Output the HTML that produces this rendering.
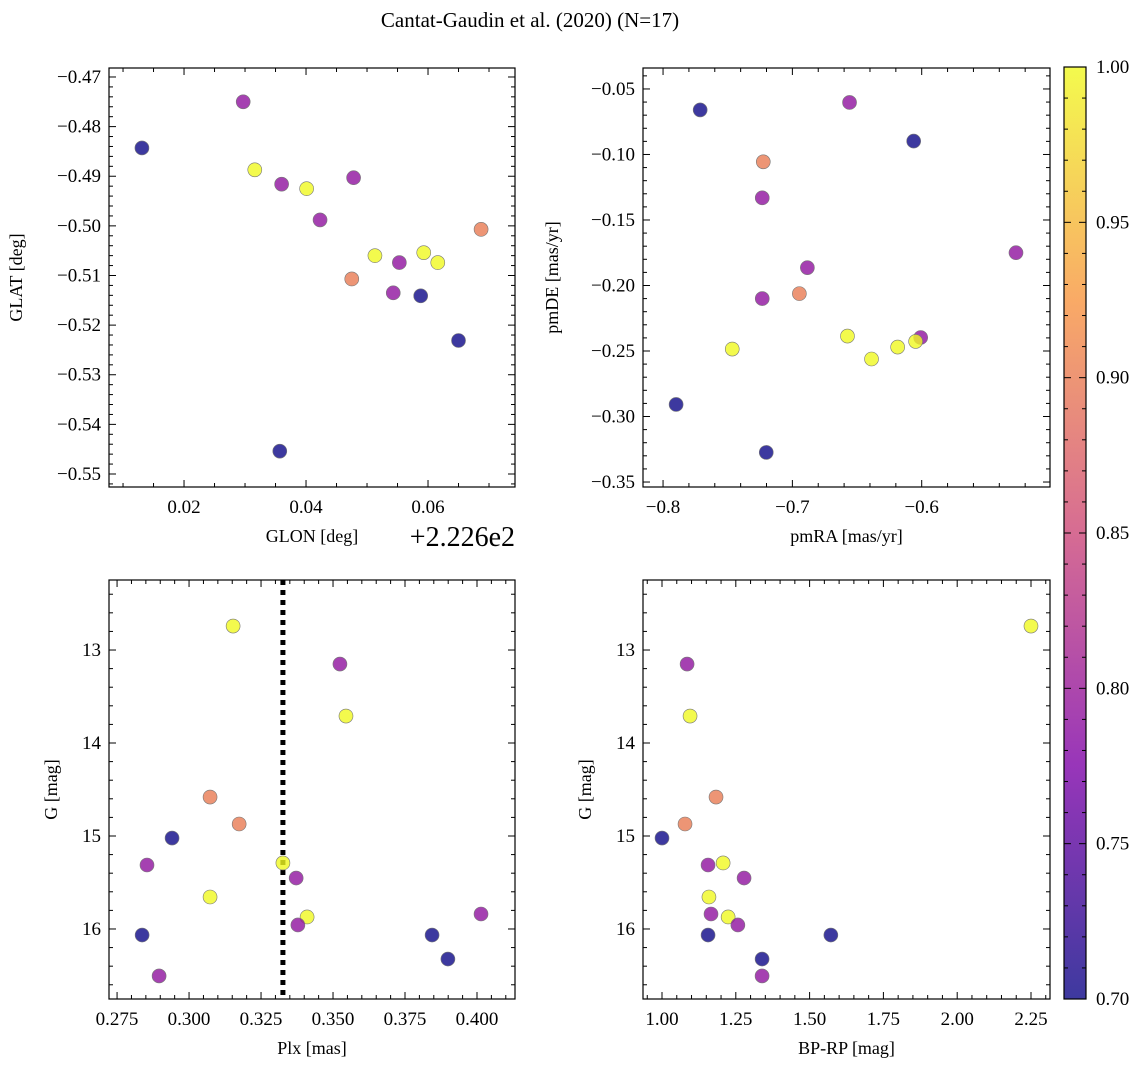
<!DOCTYPE html>
<html><head><meta charset="utf-8"><style>
body{margin:0;background:#fff;}
svg{display:block;}
svg text{font-family:"Liberation Serif",serif;}
</style></head><body>
<svg id="fig" width="1148" height="1067" viewBox="0 0 1148 1067" xmlns="http://www.w3.org/2000/svg">
<text x="530" y="27" font-size="21" text-anchor="middle" font-family="Liberation Serif, serif">Cantat-Gaudin et al. (2020) (N=17)</text>
</svg>
<script>
// Panel 1: GLON offset vs GLAT
const glonOff = [0.0131,0.0297,0.0316,0.0360,0.0401,0.0478,0.0423,0.0475,0.0513,0.0553,0.0593,0.0616,0.0687,0.0543,0.0588,0.0650,0.0357];
const glat = [-0.4843,-0.4750,-0.4887,-0.4916,-0.4925,-0.4903,-0.4988,-0.5107,-0.5060,-0.5074,-0.5054,-0.5074,-0.5007,-0.5135,-0.5141,-0.5231,-0.5454];
const prob1 = [0.70,0.79,1.0,0.79,1.0,0.79,0.79,0.90,1.0,0.79,1.0,1.0,0.90,0.79,0.70,0.70,0.70];
// Panel 2: pmRA vs pmDE
const pmra = [-0.7713,-0.7225,-0.7233,-0.6558,-0.6062,-0.6884,-0.5271,-0.7233,-0.6946,-0.7465,-0.6574,-0.6388,-0.6186,-0.6008,-0.6047,-0.7899,-0.7202];
const pmde = [-0.0660,-0.1056,-0.1331,-0.0603,-0.0898,-0.1864,-0.1750,-0.2100,-0.2062,-0.2485,-0.2386,-0.2561,-0.2470,-0.2397,-0.2427,-0.2908,-0.3274];
const prob2 = [0.70,0.90,0.79,0.79,0.70,0.79,0.79,0.79,0.90,1.0,1.0,1.0,1.0,0.79,1.0,0.70,0.70];
// Panel 3: Plx vs G
const plx = [0.3153,0.3524,0.3545,0.3073,0.3174,0.2941,0.2854,0.3326,0.3372,0.3073,0.3410,0.3378,0.4014,0.2837,0.3844,0.3899,0.2896];
const gmag3 = [12.742,13.151,13.710,14.581,14.871,15.022,15.312,15.290,15.452,15.656,15.871,15.957,15.839,16.065,16.065,16.323,16.505];
const prob3 = [1.0,0.79,1.0,0.90,0.90,0.70,0.79,1.0,0.79,1.0,1.0,0.79,0.79,0.70,0.70,0.70,0.79];
const plxLine = 0.3326;
// Panel 4: BP-RP vs G
const bprp = [2.250,1.085,1.095,1.183,1.078,1.000,1.156,1.207,1.278,1.159,1.166,1.224,1.257,1.156,1.572,1.339,1.339];
const gmag4 = [12.742,13.151,13.710,14.581,14.871,15.022,15.312,15.290,15.452,15.656,15.839,15.871,15.957,16.065,16.065,16.323,16.505];
const prob4 = [1.0,0.79,1.0,0.90,0.90,0.70,0.79,1.0,0.79,1.0,0.79,1.0,0.79,0.70,0.70,0.70,0.79];
// Tick labels
const ticks1x = [0.02,0.04,0.06];
const ticks1y = [-0.47,-0.48,-0.49,-0.50,-0.51,-0.52,-0.53,-0.54,-0.55];
const ticks2x = [-0.8,-0.7,-0.6];
const ticks2y = [-0.05,-0.10,-0.15,-0.20,-0.25,-0.30,-0.35];
const ticks3x = [0.275,0.300,0.325,0.350,0.375,0.400];
const ticksGy = [13,14,15,16];
const ticks4x = [1.00,1.25,1.50,1.75,2.00,2.25];
const ticksCb = [0.70,0.75,0.80,0.85,0.90,0.95,1.00];

const NS="http://www.w3.org/2000/svg";
const FF="Liberation Serif, serif";
const svg=document.getElementById('fig');
function el(tag,attrs,parent){const e=document.createElementNS(NS,tag);for(const k in attrs)e.setAttribute(k,attrs[k]);if(tag==='text')e.setAttribute('font-family',FF);(parent||svg).appendChild(e);return e;}
const plasmaStops=[[0,[13,8,135]],[0.25,[126,3,168]],[0.5,[204,71,120]],[0.75,[248,149,64]],[1,[240,249,33]]];
function plasma(t){t=Math.max(0,Math.min(1,t));for(let i=1;i<plasmaStops.length;i++){if(t<=plasmaStops[i][0]){const a=plasmaStops[i-1],b=plasmaStops[i];const f=(t-a[0])/(b[0]-a[0]);return 'rgb('+a[1].map((v,j)=>Math.round(v+(b[1][j]-v)*f)).join(',')+')';}}return 'rgb(240,249,33)';}
function pcol(p){return plasma((p-0.7)/0.3);}
function fmt(v,d){return (v<0?'\u2212':'')+Math.abs(v).toFixed(d);}

function panel(o){
  const g=el('g',{});
  
  
  const X=v=>o.x0+(v-o.xmin)/(o.xmax-o.xmin)*(o.x1-o.x0);
  const Y=v=>o.y1-(v-o.ymin)/(o.ymax-o.ymin)*(o.y1-o.y0);
  const tg=el('g',{stroke:'#000','stroke-width':1},g);
  const eps=1e-9;
  for(let v=Math.ceil(o.xmin/o.xminor-eps)*o.xminor;v<=o.xmax+eps;v+=o.xminor){const px=X(v);const maj=Math.abs(v/o.xmajor-Math.round(v/o.xmajor))<1e-4;const L=maj?7:4;el('line',{x1:px,x2:px,y1:o.y1,y2:o.y1-L},tg);el('line',{x1:px,x2:px,y1:o.y0,y2:o.y0+L},tg);}
  for(let v=Math.ceil(o.ymin/o.yminor-eps)*o.yminor;v<=o.ymax+eps;v+=o.yminor){const py=Y(v);const maj=Math.abs(v/o.ymajor-Math.round(v/o.ymajor))<1e-4;const L=maj?7:4;el('line',{y1:py,y2:py,x1:o.x0,x2:o.x0+L},tg);el('line',{y1:py,y2:py,x1:o.x1,x2:o.x1-L},tg);}
  o.xt.forEach(v=>{const t=el('text',{x:X(v),y:o.y1+26,'font-size':19,'text-anchor':'middle'},g);t.textContent=fmt(v,o.xd);});
  o.yt.forEach(v=>{const t=el('text',{x:o.x0-8,y:Y(v)+6,'font-size':19,'text-anchor':'end'},g);t.textContent=o.yabs?Math.abs(v).toFixed(o.yd):fmt(v,o.yd);});
  if(o.vline!==undefined){const l=el('line',{x1:X(o.vline),x2:X(o.vline),y1:o.y0,y2:o.y1,stroke:'#000','stroke-width':5,'stroke-dasharray':'5,5'},g);}
  for(let i=0;i<o.xs.length;i++){const c=el('circle',{cx:X(o.xs[i]),cy:Y(o.ys[i]),r:7,fill:pcol(o.ps[i]),'fill-opacity':0.8,stroke:'#777','stroke-width':0.6},g);}
  el('rect',{x:o.x0,y:o.y0,width:o.x1-o.x0,height:o.y1-o.y0,fill:'none',stroke:'#000','stroke-width':1.2},g);
  const xl=el('text',{x:o.xlx||(o.x0+o.x1)/2,y:o.y1+55,'font-size':18,'text-anchor':'middle'},g);xl.textContent=o.xlabel;
  const cy=(o.y0+o.y1)/2;const yl=el('text',{x:0,y:0,'font-size':18,'text-anchor':'middle',transform:`translate(${o.ylx},${cy}) rotate(-90)`},g);yl.textContent=o.ylabel;
}
panel({name:'glon-glat-panel',x0:109,x1:515,y0:68,y1:487,xmin:0.0077,xmax:0.07426,ymin:-0.55262,ymax:-0.46819,xmajor:0.02,xminor:0.005,ymajor:0.01,yminor:0.002,xt:ticks1x,yt:ticks1y,xd:2,yd:2,xs:glonOff,ys:glat,ps:prob1,xlabel:'GLON [deg]',xlx:312,ylabel:'GLAT [deg]',ylx:22});
const off=el('text',{x:515,y:546,'font-size':28,'text-anchor':'end'});off.textContent='+2.226e2';


panel({name:'proper-motion-panel',x0:643,x1:1050,y0:68,y1:487,xmin:-0.8155,xmax:-0.5008,ymin:-0.3538,ymax:-0.034,xmajor:0.1,xminor:0.02,ymajor:0.05,yminor:0.01,xt:ticks2x,yt:ticks2y,xd:1,yd:2,xs:pmra,ys:pmde,ps:prob2,xlabel:'pmRA [mas/yr]',ylabel:'pmDE [mas/yr]',ylx:558});
panel({name:'parallax-g-panel',x0:109,x1:515,y0:580,y1:999,xmin:0.2722,xmax:0.4132,ymin:-16.753,ymax:-12.247,xmajor:0.025,xminor:0.005,ymajor:1,yminor:0.2,xt:ticks3x,yt:ticksGy.map(v=>-v),yabs:true,xd:3,yd:0,xs:plx,ys:gmag3.map(v=>-v),ps:prob3,vline:plxLine,xlabel:'Plx [mas]',ylabel:'G [mag]',ylx:57});
panel({name:'color-magnitude-panel',x0:643,x1:1050,y0:580,y1:999,xmin:0.9356,xmax:2.3144,ymin:-16.753,ymax:-12.247,xmajor:0.25,xminor:0.05,ymajor:1,yminor:0.2,xt:ticks4x,yt:ticksGy.map(v=>-v),yabs:true,xd:2,yd:0,xs:bprp,ys:gmag4.map(v=>-v),ps:prob4,xlabel:'BP-RP [mag]',ylabel:'G [mag]',ylx:591});
// colorbar
const cb=el('g',{});


const defs=el('defs',{},cb);const lg=el('linearGradient',{id:'pl',x1:0,y1:1,x2:0,y2:0},defs);
for(let i=0;i<=20;i++){el('stop',{offset:i/20,'stop-color':plasma(i/20),'stop-opacity':0.8},lg);}
const cx0=1064,cx1=1086,cy0=67,cy1=999;
el('rect',{x:cx0,y:cy0,width:cx1-cx0,height:cy1-cy0,fill:'url(#pl)',stroke:'#000','stroke-width':1.2},cb);
const CY=v=>cy1-(v-0.7)/0.3*(cy1-cy0);
for(let k=70;k<=100;k++){const v=k/100;const maj=k%5===0;el('line',{x1:cx1,x2:cx1-(maj?7:4),y1:CY(v),y2:CY(v),stroke:'#000'},cb);el('line',{x1:cx0,x2:cx0+(maj?7:4),y1:CY(v),y2:CY(v),stroke:'#000'},cb);}
ticksCb.forEach(v=>{const t=el('text',{x:1096,y:CY(v)+6,'font-size':19},cb);t.textContent=v.toFixed(2);});
</script>
</body></html>
